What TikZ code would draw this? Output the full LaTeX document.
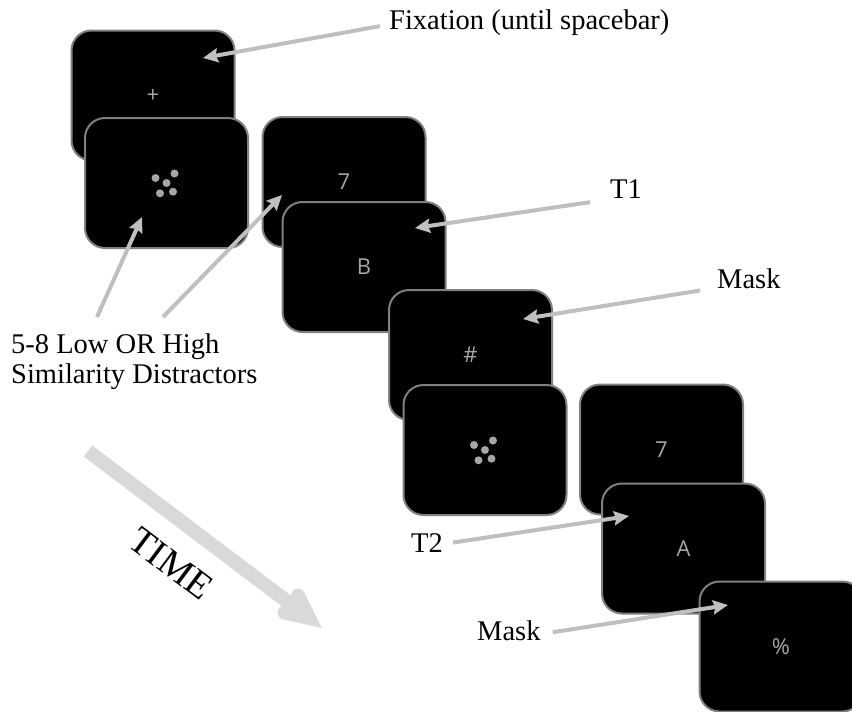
\documentclass[tikz,border=0pt]{standalone}
\usepackage{fontspec}
\setmainfont{Liberation Serif}
\newfontfamily\screenfont{Open Sans}
\usetikzlibrary{arrows.meta,calc}

\definecolor{frame}{HTML}{808080}
\definecolor{glyph}{HTML}{A6A6A6}
\definecolor{pointer}{HTML}{BFBFBF}
\definecolor{timeband}{HTML}{D9D9D9}

\tikzset{
  screen/.style={draw=frame, line width=2pt, fill=black, rounded corners=20pt,
    minimum width=163pt, minimum height=130pt, inner sep=0pt,
    font=\screenfont\fontsize{22}{26}\selectfont, text=glyph},
  lbl/.style={font=\fontsize{28.5}{30}\selectfont, inner sep=0pt},
  ptr/.style={draw=pointer, line width=4pt,
    -{Stealth[length=15pt,width=14pt,inset=2pt]}},
  band/.style={draw=timeband, line width=14pt},
}

\begin{document}
\begin{tikzpicture}[x=1pt,y=-1pt]
  \useasboundingbox (0,0) rectangle (852,712);

  % stimulus screens, earliest first
  \node[screen] (s1) at (153,95.5)  {+};
  \node[screen] (s2) at (166.5,183) {};
  \node[screen] (s3) at (344,182)   {7};
  \node[screen] (s4) at (364,267)   {B};
  \node[screen] (s5) at (470.5,355) {\#};
  \node[screen] (s6) at (485,450)   {};
  \node[screen] (s7) at (661.5,449.5) {7};
  \node[screen] (s8) at (683.5,548.5) {A};
  \node[screen] (s9) at (781,646.5) {\%};

  % dot clusters (distractor screens)
  \foreach \scr in {s2,s6}
    \foreach \dx/\dy in {-11/-5, 8/-9.5, 0/0, -6.5/10.3, 6.5/8.7}
      \fill[glyph] ($(\scr)+(\dx,\dy)$) circle[radius=4pt];

  % labels
  \node[lbl, anchor=base west] (fixlbl) at (389,30) {Fixation (until spacebar)};
  \node[lbl, anchor=base west] (t1lbl)  at (610,198) {T1};
  \node[lbl, anchor=base west] (m1lbl)  at (717,288) {Mask};
  \node[lbl, anchor=north west, align=left] (dist) at (11,333.5)
       {5-8 Low OR High\\Similarity Distractors};
  \node[lbl, anchor=base west] (t2lbl)  at (411,552) {T2};
  \node[lbl, anchor=base west] (m2lbl)  at (477,640) {Mask};

  % pointer tips inside the screens
  \coordinate (fixtip) at (203,58);
  \coordinate (d1tip)  at (142,217);
  \coordinate (d2tip)  at (282,195);
  \coordinate (t1tip)  at (415,228);
  \coordinate (m1tip)  at (523,319);
  \coordinate (t2tip)  at (629,516);
  \coordinate (m2tip)  at (728,605);

  % pointers
  \draw[ptr] ([xshift=-9pt,yshift=-3pt]fixlbl.west) -- (fixtip);
  \draw[ptr] ([xshift=86pt,yshift=16.5pt]dist.north west) -- (d1tip);
  \draw[ptr] ([xshift=152pt,yshift=16.5pt]dist.north west) -- (d2tip);
  \draw[ptr] ([xshift=-20pt,yshift=-4pt]t1lbl.south west) -- (t1tip);
  \draw[ptr] ([xshift=-17pt,yshift=-2pt]m1lbl.south west) -- (m1tip);
  \draw[ptr] ([xshift=10pt]t2lbl.east) -- (t2tip);
  \draw[ptr] ([xshift=12pt,yshift=-2pt]m2lbl.east) -- (m2tip);

  % time arrow
  \coordinate (tstart) at (88,451);
  \coordinate (ttip)   at (309,618);
  \coordinate (tarmA)  at (284.6,612.6);
  \coordinate (tarmB)  at (298,595.5);
  \draw[band] (tstart) -- (ttip);
  \draw[band, line cap=round, line join=miter] (tarmA) -- (ttip) -- (tarmB);
  \node[font=\fontsize{38}{42}\selectfont, rotate=-37, inner sep=0pt] (timelbl)
       at (171,564) {TIME};
\end{tikzpicture}
\end{document}
